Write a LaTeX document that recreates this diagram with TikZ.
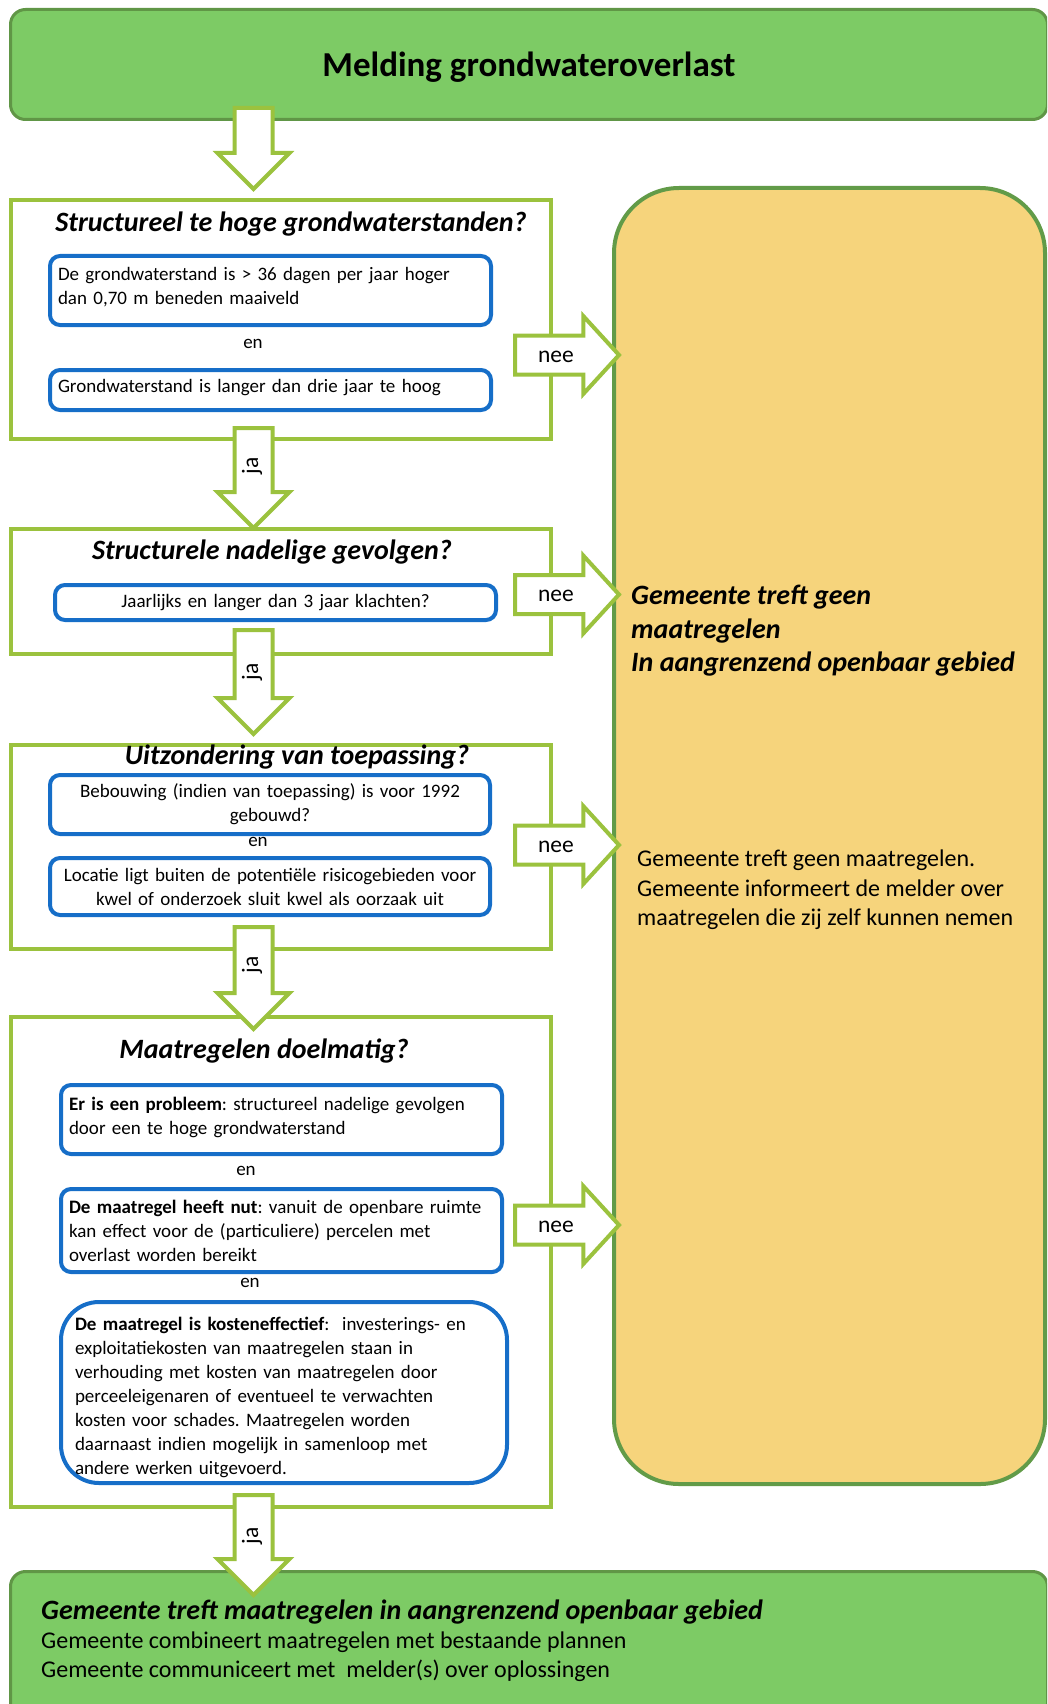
\documentclass[tikz,border=0pt]{standalone}
\usepackage{fontspec}
\setmainfont{Carlito}
\frenchspacing
\usetikzlibrary{shapes,arrows,positioning,calc}

\definecolor{headgreen}{RGB}{125,203,101}
\definecolor{headline}{RGB}{96,150,70}
\definecolor{framegreen}{RGB}{155,194,62}
\definecolor{condblue}{RGB}{22,110,200}
\definecolor{nofill}{RGB}{246,212,124}
\definecolor{noline}{RGB}{98,155,72}

\begin{document}
\begin{tikzpicture}[x=1pt, y=-1pt]
  \tikzstyle{headbox}=[rectangle, draw=headline, fill=headgreen, line width=3pt, rounded corners=15pt, anchor=north west, inner sep=0pt]
  \tikzstyle{frame}=[rectangle, draw=framegreen, line width=4pt, anchor=north west, inner sep=0pt, minimum width=540pt]
  \tikzstyle{cond}=[rectangle, draw=condblue, line width=4pt, rounded corners=10pt, anchor=north west, inner xsep=8pt, inner ysep=0pt, align=left, font=\fontsize{19}{24}\selectfont]
  \tikzstyle{question}=[anchor=base, inner sep=0pt, font=\fontsize{28}{32}\selectfont\bfseries\itshape]
  \tikzstyle{andtext}=[inner sep=0pt, font=\fontsize{19}{22}\selectfont]
  \tikzstyle{downarrow}=[single arrow, draw=framegreen, fill=white, line width=4pt, inner xsep=0pt, inner ysep=17pt, single arrow head extend=17pt, single arrow tip angle=90, rotate=-90, anchor=tail]
  \tikzstyle{neearrow}=[single arrow, draw=framegreen, fill=white, line width=4pt, inner xsep=0pt, inner ysep=17.5pt, single arrow head extend=19.5pt, single arrow tip angle=95, minimum height=104pt, anchor=tail]
  \tikzstyle{answer}=[inner sep=0pt, font=\fontsize{23.5}{27}\selectfont]

  \path[use as bounding box, clip] (0,0) rectangle (1047,1704);

  % start and end
  \node[headbox, minimum width=1037pt, minimum height=110pt, text depth=0pt, font=\fontsize{35}{40}\selectfont\bfseries] (melding) at (9,8) {Melding grondwateroverlast};
  \node[headbox, minimum width=1037pt, minimum height=160pt] (uitvoering) at (9,1570) {};
  \node[anchor=base west, inner sep=0pt, font=\fontsize{28}{32}\selectfont\bfseries\itshape] (uitvoeringkop) at (41,1619) {Gemeente treft maatregelen in aangrenzend openbaar gebied};
  \node[anchor=north west, inner sep=0pt, align=left, font=\fontsize{24}{28.5}\selectfont] (uitvoeringtekst) at (41,1632) {Gemeente combineert maatregelen met bestaande plannen\\Gemeente communiceert met\ \ melder(s) over oplossingen};

  % no measures
  \node[rectangle, draw=noline, fill=nofill, line width=4pt, rounded corners=65pt, anchor=north west, minimum width=431pt, minimum height=1296pt] (geen) at (612,186) {};
  \node[anchor=north west, inner sep=0pt, align=left, font=\fontsize{28}{33.5}\selectfont\bfseries\itshape] (geenkop) at (631,585) {Gemeente treft geen\\maatregelen\\In aangrenzend openbaar gebied};
  \node[anchor=north west, inner sep=0pt, align=left, font=\fontsize{24}{29.3}\selectfont] (geentekst) at (637,850) {Gemeente treft geen maatregelen.\\Gemeente informeert de melder over\\maatregelen die zij zelf kunnen nemen};

  % first question
  \node[frame, minimum height=239pt] (vraag1) at (9,198) {};
  \node[question] (kop1) at (291,232) {Structureel te hoge grondwaterstanden?};
  \node[cond, minimum height=69pt, text width=425pt, text height=14pt, text depth=35pt] (stand) at (48,254) {De grondwaterstand is > 36 dagen per jaar hoger\\dan 0,70 m beneden maaiveld};
  \node[andtext] (en1) at (253,344) {en};
  \node[cond, minimum height=40pt, text width=425pt, text height=14pt, text depth=9pt] (duur) at (48,368) {Grondwaterstand is langer dan drie jaar te hoog};

  % second question
  \node[frame, minimum height=125pt] (vraag2) at (9,527) {};
  \node[question] (kop2) at (272,559) {Structurele nadelige gevolgen?};
  \node[cond, minimum height=35pt, text width=425pt, align=center] (klacht) at (53,583) {Jaarlijks en langer dan 3 jaar klachten?};

  % third question
  \node[frame, minimum height=204pt] (vraag3) at (9,743) {};
  \node[question] (kop3) at (297,764) {Uitzondering van toepassing?};
  \node[cond, minimum height=59pt, text width=424pt, align=center] (bouw) at (48,773) {Bebouwing (indien van toepassing) is voor 1992\\gebouwd?};
  \node[andtext] (en2) at (258,842) {en};
  \node[cond, minimum height=57pt, text width=424pt, align=center] (kwel) at (48,856) {Locatie ligt buiten de potentiële risicogebieden voor\\kwel of onderzoek sluit kwel als oorzaak uit};

  % fourth question
  \node[frame, minimum height=490pt] (vraag4) at (9,1015) {};
  \node[question] (kop4) at (264,1058) {Maatregelen doelmatig?};
  \node[cond, minimum height=69pt, text width=425pt, text height=14pt, text depth=33pt] (probleem) at (59,1083) {\textbf{Er is een probleem}: structureel nadelige gevolgen\\door een te hoge grondwaterstand};
  \node[andtext] (en3) at (246,1171) {en};
  \node[cond, minimum height=83pt, text width=425pt] (nut) at (59,1187) {\textbf{De maatregel heeft nut}: vanuit de openbare ruimte\\kan effect voor de (particuliere) percelen met\\overlast worden bereikt};
  \node[andtext] (en4) at (250,1283) {en};
  \node[cond, minimum height=181pt, text width=418pt, inner xsep=14pt, rounded corners=38pt, text height=14pt, text depth=138pt] (kosten) at (59,1300) {\textbf{De maatregel is kosteneffectief}:\ \ investerings- en\\exploitatiekosten van maatregelen staan in\\verhouding met kosten van maatregelen door\\perceeleigenaren of eventueel te verwachten\\kosten voor schades. Maatregelen worden\\daarnaast indien mogelijk in samenloop met\\andere werken uitgevoerd.};

  % ja arrows
  \node[downarrow, minimum height=81pt] (ja0) at (253.5,106) {};
  \node[downarrow, minimum height=100pt] (ja1) at (253.5,426) {};
  \node[downarrow, minimum height=104pt] (ja2) at (253.5,628) {};
  \node[downarrow, minimum height=102pt] (ja3) at (253.5,925) {};
  \node[downarrow, minimum height=100pt] (ja4) at (253.5,1493) {};
  \node[answer, rotate=90] (jatekst1) at (252,466) {ja};
  \node[answer, rotate=90] (jatekst2) at (252,672) {ja};
  \node[answer, rotate=90] (jatekst3) at (252,965) {ja};
  \node[answer, rotate=90] (jatekst4) at (252,1536) {ja};

  % nee arrows
  \node[neearrow] (nee1) at (513,355) {};
  \node[neearrow] (nee2) at (513,594.5) {};
  \node[neearrow] (nee3) at (513,845) {};
  \node[neearrow] (nee4) at (513,1225) {};
  \node[answer] (neetekst1) at (556,357) {nee};
  \node[answer] (neetekst2) at (556,596) {nee};
  \node[answer] (neetekst3) at (556,847) {nee};
  \node[answer] (neetekst4) at (556,1227) {nee};
\end{tikzpicture}
\end{document}
